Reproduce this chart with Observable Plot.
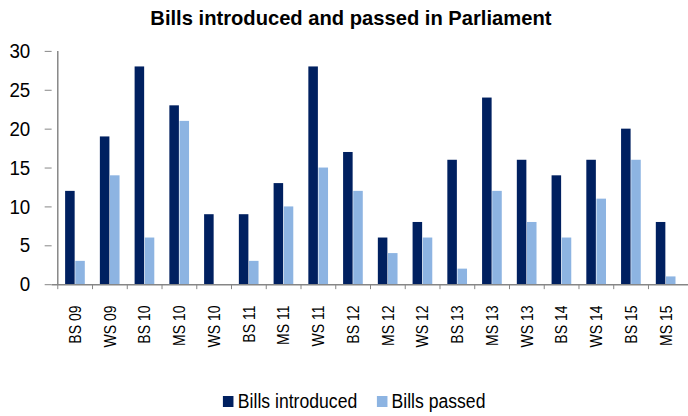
<!DOCTYPE html>
<html>
<head>
<meta charset="utf-8">
<script src="https://cdn.jsdelivr.net/npm/d3@7"></script>
<script src="https://cdn.jsdelivr.net/npm/@observablehq/plot@0.6"></script>
<style>
  html, body { margin: 0; padding: 0; background: #fff; overflow: hidden; width: 688px; height: 416px; }
  body { font-family: "Liberation Sans", Arial, sans-serif; }
  #title { height: 36px; line-height: 36px; width: 702px; text-align: center; color: #000; }
  #title span { display: inline-block; font-weight: bold; font-size: 21px; transform: scaleX(0.96); }
  #legend { height: 32px; width: 708px; display: flex; justify-content: center; align-items: center; }
  #legend .inner { display: flex; align-items: center; gap: 22px; font-size: 20px; color: #000; transform: scaleX(0.88); }
  .item { display: flex; align-items: center; }
  .sw { width: 12px; height: 10.5px; margin-right: 5px; }
</style>
</head>
<body>
<div id="title"><span>Bills introduced and passed in Parliament</span></div>
<div id="chart"></div>
<div id="legend"><div class="inner"></div></div>
<script>
const categories = ["BS 09","WS 09","BS 10","MS 10","WS 10","BS 11","MS 11","WS 11","BS 12","MS 12","WS 12","BS 13","MS 13","WS 13","BS 14","WS 14","BS 15","MS 15"];
const billsIntroduced = [12,19,28,23,9,9,13,28,17,6,8,16,24,16,14,16,20,8];
const billsPassed     = [3,14,6,21,0,3,10,15,12,4,6,2,12,8,6,11,16,1];
const seriesNames = ["Bills introduced","Bills passed"];
const seriesColors = ["#002060","#8DB4E2"];
const yTicks = [0,5,10,15,20,25,30];

const rows = categories.map((c, i) => ({cat: c, introduced: billsIntroduced[i], passed: billsPassed[i]}));

const W = 693;               // plot extends slightly past the window, as in the reference
const marginLeft = 52;
const step = (W - marginLeft) / categories.length;
const outer = 0.213 * step;
const half = 0.5 * step;
const axisColor = "#868686";

const chart = Plot.plot({
  width: W,
  height: 352,
  marginLeft: marginLeft,
  marginRight: 0,
  marginTop: 15,
  marginBottom: 102,
  style: {fontFamily: '"Liberation Sans", Arial, sans-serif', background: "transparent", color: "#000", overflow: "visible"},
  x: {domain: categories, padding: 0, axis: null},
  y: {domain: [0, 30], axis: null},
  marks: [
    Plot.barY(rows, {x: "cat", y: "introduced", fill: seriesColors[0], insetLeft: outer, insetRight: half}),
    Plot.barY(rows, {x: "cat", y: "passed", fill: seriesColors[1], insetLeft: half, insetRight: outer}),
    // y axis ticks + labels
    Plot.axisY({ticks: yTicks, tickSize: 7, tickPadding: 15, fontSize: 21, stroke: axisColor, strokeOpacity: 1, color: "#000", tickFormat: d => d, label: null}),
    // y axis line at the left edge of the first category band
    Plot.ruleX([categories[0]], {x: d => d, dx: -step / 2, y1: 0, y2: 30, stroke: axisColor, strokeWidth: 1.5}),
    // x axis: tick marks at category boundaries
    Plot.axisX({tickSize: 5, tickFormat: () => "", dx: -step / 2, stroke: axisColor, strokeOpacity: 1, label: null}),
    // x axis: labels centered on categories
    Plot.axisX({tickSize: 0, tickPadding: 21, tickRotate: -90, fontSize: 17, color: "#000", label: null}),
    Plot.ruleY([0], {stroke: axisColor, strokeWidth: 1.5})
  ]
});
document.getElementById("chart").appendChild(chart);

// condense tick label text horizontally (reference uses a narrow typeface)
function condense(sel, k) {
  d3.select(chart).selectAll(sel).each(function() {
    const t = this.getAttribute("transform");
    if (t) {
      this.setAttribute("transform", t + ` scale(${k},1)`);
    } else {
      const x = +(this.getAttribute("x") || 0), y = +(this.getAttribute("y") || 0);
      this.removeAttribute("x"); this.removeAttribute("y");
      this.setAttribute("transform", `translate(${x},${y}) scale(${k},1)`);
    }
  });
}
condense('g[aria-label="y-axis tick label"] text', 0.9);
condense('g[aria-label="x-axis tick label"] text', 0.83);

const legend = document.querySelector("#legend .inner");
seriesNames.forEach((n, i) => {
  const it = document.createElement("div");
  it.className = "item";
  const sw = document.createElement("div");
  sw.className = "sw";
  sw.style.background = seriesColors[i];
  const t = document.createElement("span");
  t.textContent = n;
  it.appendChild(sw); it.appendChild(t);
  legend.appendChild(it);
});
</script>
</body>
</html>
